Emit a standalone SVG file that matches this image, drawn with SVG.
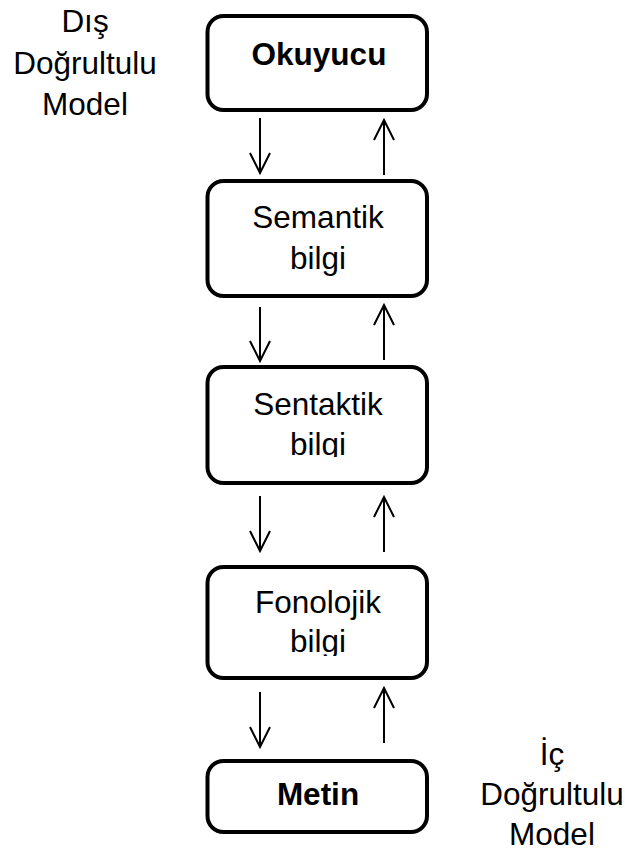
<svg xmlns="http://www.w3.org/2000/svg" width="625" height="855" viewBox="0 0 625 855">
<style>
.box{fill:#fff;stroke:#000;stroke-width:4}
.t{font-family:"Liberation Sans",Arial,sans-serif;font-size:31.5px;text-anchor:middle;fill:#000}
.b{font-weight:bold}
.arr{fill:none;stroke:#000;stroke-width:2}
</style>
<defs>
<clipPath id="c3"><rect x="200" y="360" width="240" height="97"/></clipPath>
<clipPath id="c4"><rect x="200" y="560" width="240" height="96"/></clipPath>
</defs>
<rect width="625" height="855" fill="#fff"/>
<g id="label-dis">
<text class="t" x="85" y="32">Dış</text>
<text class="t" x="85" y="74">Doğrultulu</text>
<text class="t" x="85" y="115">Model</text>
</g>
<g id="label-ic">
<text class="t" x="552" y="765">İç</text>
<text class="t" x="552" y="805">Doğrultulu</text>
<text class="t" x="552" y="845">Model</text>
</g>
<g id="okuyucu">
<rect class="box" x="207.5" y="16" width="219.5" height="94" rx="16"/>
<text class="t b" x="319" y="65">Okuyucu</text>
</g>
<g id="semantik">
<rect class="box" x="207.5" y="181" width="219.5" height="115" rx="16"/>
<text class="t" x="318" y="228">Semantik</text>
<text class="t" x="318" y="269">bilgi</text>
</g>
<g id="sentaktik">
<rect class="box" x="207.5" y="367" width="219.5" height="116" rx="16"/>
<text class="t" x="318" y="415">Sentaktik</text>
<text class="t" x="318" y="455" clip-path="url(#c3)">bilgi</text>
</g>
<g id="fonolojik">
<rect class="box" x="207.5" y="567" width="219.5" height="111" rx="16"/>
<text class="t" x="318" y="613">Fonolojik</text>
<text class="t" x="318" y="652" clip-path="url(#c4)">bilgi</text>
</g>
<g id="metin">
<rect class="box" x="207.5" y="761" width="219.5" height="71" rx="16"/>
<text class="t b" x="318" y="805">Metin</text>
</g>
<g id="connectors" class="arr">
<path d="M260 118V173M250 153L260 173L270 153"/>
<path d="M384 175V120M374 140L384 120L394 140"/>
<path d="M260 307V361M250 341L260 361L270 341"/>
<path d="M384 360V305M374 325L384 305L394 325"/>
<path d="M260 496V551M250 531L260 551L270 531"/>
<path d="M384 552V497M374 517L384 497L394 517"/>
<path d="M260 692V747M250 727L260 747L270 727"/>
<path d="M384 743V688M374 708L384 688L394 708"/>
</g>
</svg>
